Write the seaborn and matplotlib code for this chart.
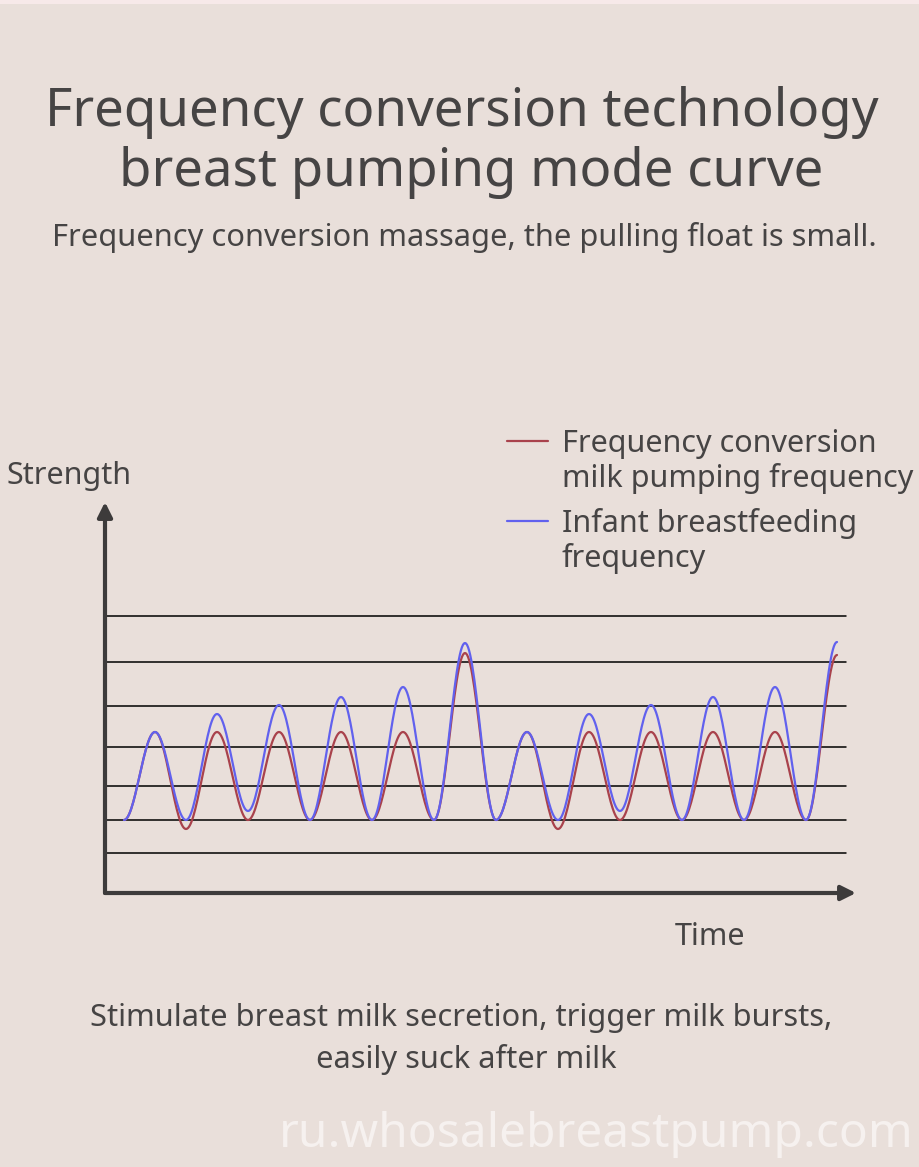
import numpy as np
import pandas as pd
import matplotlib
matplotlib.use("Agg")
import matplotlib.pyplot as plt
import seaborn as sns

# values (strength in arbitrary units, time in half-cycles)
time_points = list(range(24))
pump_strength = [7.3, 16.1, 6.4, 16.1, 7.3, 16.1, 7.3, 16.1, 7.3, 16.1, 7.3, 24.0,
                 7.3, 16.1, 6.4, 16.1, 7.3, 16.1, 7.3, 16.1, 7.3, 16.1, 7.3, 23.8]
infant_strength = [7.3, 16.1, 7.3, 17.9, 8.2, 18.8, 7.3, 19.6, 7.3, 20.6, 7.3, 25.0,
                   7.3, 16.1, 7.3, 17.9, 8.2, 18.8, 7.3, 19.6, 7.3, 20.6, 7.3, 25.1]
grid_levels = [27.7, 23.1, 18.7, 14.6, 10.7, 7.3, 4.0]

series_names = ["Frequency conversion milk pumping frequency",
                "Infant breastfeeding frequency"]
legend_lines = [["Frequency conversion", "milk pumping frequency"],
                ["Infant breastfeeding", "frequency"]]
series_colors = ["#a9424c", "#6161ee"]

BG = "#e9dfda"
TEXT = "#464444"


def smooth_wave(t, v, steps=30):
    # draw each rise/fall between the read extrema as a half cosine
    xs, ys = [], []
    for i in range(len(t) - 1):
        u = np.linspace(0, 1, steps, endpoint=False)
        w = (1 - np.cos(np.pi * u)) / 2
        xs.extend(t[i] + (t[i + 1] - t[i]) * u)
        ys.extend(v[i] + (v[i + 1] - v[i]) * w)
    xs.append(t[-1])
    ys.append(v[-1])
    return xs, ys


frames = []
for name, vals in zip(series_names, [pump_strength, infant_strength]):
    xs, ys = smooth_wave(time_points, vals)
    frames.append(pd.DataFrame({"time": xs, "strength": ys, "series": name}))
df = pd.concat(frames, ignore_index=True)

sns.set_theme(style="white")
plt.rcParams["font.family"] = ["Noto Sans", "DejaVu Sans"]

fig = plt.figure(figsize=(9.2, 11.67), dpi=100, facecolor=BG)
W, H = 920, 1167

# axes box in pixel terms: x 105..856, y 502..893
ax = fig.add_axes([105 / W, 1 - 893 / H, (856 - 105) / W, (893 - 502) / H])
ax.set_facecolor(BG)
ax.set_xlim((105 - 124) / 31, (856 - 124) / 31)
ax.set_ylim(0, (893 - 502) / 10)

for lvl in grid_levels:
    ax.axhline(lvl, xmin=0, xmax=(846 - 105) / (856 - 105), color="black", lw=1.1, zorder=1)

sns.lineplot(data=df, x="time", y="strength", hue="series", palette=series_colors,
             lw=1.6, sort=False, legend=False, ax=ax, zorder=3)

for s in ax.spines.values():
    s.set_visible(False)
ax.set_xticks([])
ax.set_yticks([])
ax.set_xlabel("")
ax.set_ylabel("")

arrow = dict(arrowstyle="-|>", color="#3d3b3b", lw=3, mutation_scale=22, shrinkA=0, shrinkB=0)
ax.annotate("", xy=(1, 0), xytext=(0, 0), xycoords="axes fraction", arrowprops=arrow)
ax.annotate("", xy=(0, 1), xytext=(0, 0), xycoords="axes fraction", arrowprops=arrow)

# legend drawn by hand to match the reference placement
for lines, color, y_line, y_txt in zip(legend_lines, series_colors, [441, 521], [452, 532]):
    fig.add_artist(plt.Line2D([507 / W, 548 / W], [1 - y_line / H] * 2, color=color, lw=1.6))
    for k, line in enumerate(lines):
        fig.text(562 / W, 1 - (y_txt + 35 * k) / H, line, ha="left", va="baseline",
                 fontsize=22, color=TEXT)

fig.text(7 / W, 1 - 484 / H, "Strength", ha="left", va="baseline", fontsize=22, color=TEXT)
fig.text(675 / W, 1 - 945 / H, "Time", ha="left", va="baseline", fontsize=22, color=TEXT)

fig.text(462 / W, 1 - 126 / H, "Frequency conversion technology", ha="center", va="baseline",
         fontsize=38, color=TEXT)
fig.text(471 / W, 1 - 186 / H, "breast pumping mode curve", ha="center", va="baseline",
         fontsize=38, color=TEXT)
fig.text(464 / W, 1 - 246 / H, "Frequency conversion massage, the pulling float is small.",
         ha="center", va="baseline", fontsize=22.2, color=TEXT)

fig.text(461 / W, 1 - 1026 / H, "Stimulate breast milk secretion, trigger milk bursts,",
         ha="center", va="baseline", fontsize=22.2, color=TEXT)
fig.text(466 / W, 1 - 1068 / H, "easily suck after milk",
         ha="center", va="baseline", fontsize=22.2, color=TEXT)

fig.text(596 / W, 1 - 1147 / H, "ru.whosalebreastpump.com", ha="center", va="baseline",
         fontsize=34.5, color="#f6f1ef")

fig.add_artist(plt.Rectangle((0, 1 - 4 / H), 1, 4 / H, color="#f7e9e9", lw=0))

fig.savefig("out.png", dpi=100, facecolor=BG)
